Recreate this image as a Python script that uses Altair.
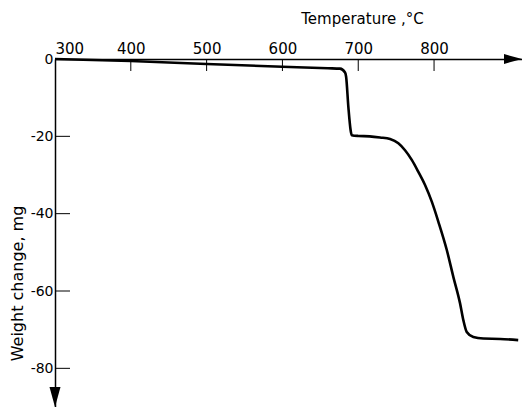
import altair as alt
import pandas as pd

# Curve
temperature = [300, 400, 500, 600, 660, 676, 682.6, 684, 687, 690, 691.4, 700, 715, 728.8,
               742.0, 752.9, 761.7, 770.6, 779.3, 788.1, 797.0, 805.7, 816.8, 825.5, 834.3,
               838.7, 843.1, 851.8, 865.0, 887.1, 911]
weight = [0, -0.5, -1.3, -2.0, -2.4, -2.5, -3.5, -4.6, -12.5, -18.5, -19.7, -19.9, -20.0, -20.3,
          -20.7, -21.8, -23.6, -26.1, -29.2, -32.6, -36.9, -42.1, -49.4, -56.4, -63.2,
          -67.6, -70.6, -71.9, -72.3, -72.4, -72.7]

x_ticks = [300, 400, 500, 600, 700, 800]
x_inner_ticks = [400, 500, 600, 700, 800]
y_ticks = [0, -20, -40, -60, -80]
y_inner_ticks = [-20, -40, -60, -80]

FONT = "DejaVu Sans"
W, H = 467, 348

df = pd.DataFrame({"T": temperature, "W": weight})
xs = alt.Scale(domain=[300, 916], nice=False, zero=False)
ys = alt.Scale(domain=[-90, 0], nice=False, zero=False)

line = alt.Chart(df).mark_line(color="black", strokeWidth=2.6, interpolate="monotone").encode(
    x=alt.X("T:Q", scale=xs, axis=alt.Axis(
        orient="top", values=x_ticks, ticks=False, grid=False, domainColor="black",
        domainWidth=1.5, labelFont=FONT, labelFontSize=15, labelColor="black",
        labelPadding=3, format="d", title="Temperature ,°C", titleFont=FONT,
        titleFontSize=15, titleFontWeight="normal", titleColor="black",
        titleX=307, titleY=-36, titleAlign="center", titleBaseline="alphabetic")),
    y=alt.Y("W:Q", scale=ys, axis=alt.Axis(
        orient="left", values=y_ticks, ticks=False, grid=False, domainColor="black",
        domainWidth=1.5, labelFont=FONT, labelFontSize=14, labelColor="black",
        labelPadding=2, labelExpr="datum.value == 0 ? '0' : '-' + abs(datum.value)",
        title="Weight change, mg", titleFont=FONT, titleFontSize=16,
        titleFontWeight="normal", titleColor="black", titleX=-38, titleY=224,
        titleAlign="center", titleBaseline="middle", titleAngle=270)),
)

xt = alt.Chart(pd.DataFrame({"T": x_inner_ticks})).mark_rule(color="black", strokeWidth=1).encode(
    x=alt.X("T:Q", scale=xs), y=alt.value(0), y2=alt.value(12))
yt = alt.Chart(pd.DataFrame({"W": y_inner_ticks})).mark_rule(color="black", strokeWidth=1).encode(
    y=alt.Y("W:Q", scale=ys), x=alt.value(0), x2=alt.value(15))

one = pd.DataFrame({"a": [0]})
arrow_x = alt.Chart(one).mark_point(shape="M-1,-0.55L1,0L-1,0.55Z", filled=True, color="black",
                                    opacity=1, size=324).encode(x=alt.value(W - 9), y=alt.value(0))
arrow_y = alt.Chart(one).mark_point(shape="M-0.55,-1L0,1L0.55,-1Z", filled=True, color="black",
                                    opacity=1, size=400).encode(x=alt.value(0), y=alt.value(H - 10))

chart = alt.layer(line, xt, yt, arrow_x, arrow_y).properties(
    width=W, height=H, autosize="none",
    padding={"left": 55, "top": 59, "right": 0, "bottom": 0},
    background="white",
).configure_view(stroke=None)

chart.save("out.html", embed_options={"renderer": "svg", "actions": False})
